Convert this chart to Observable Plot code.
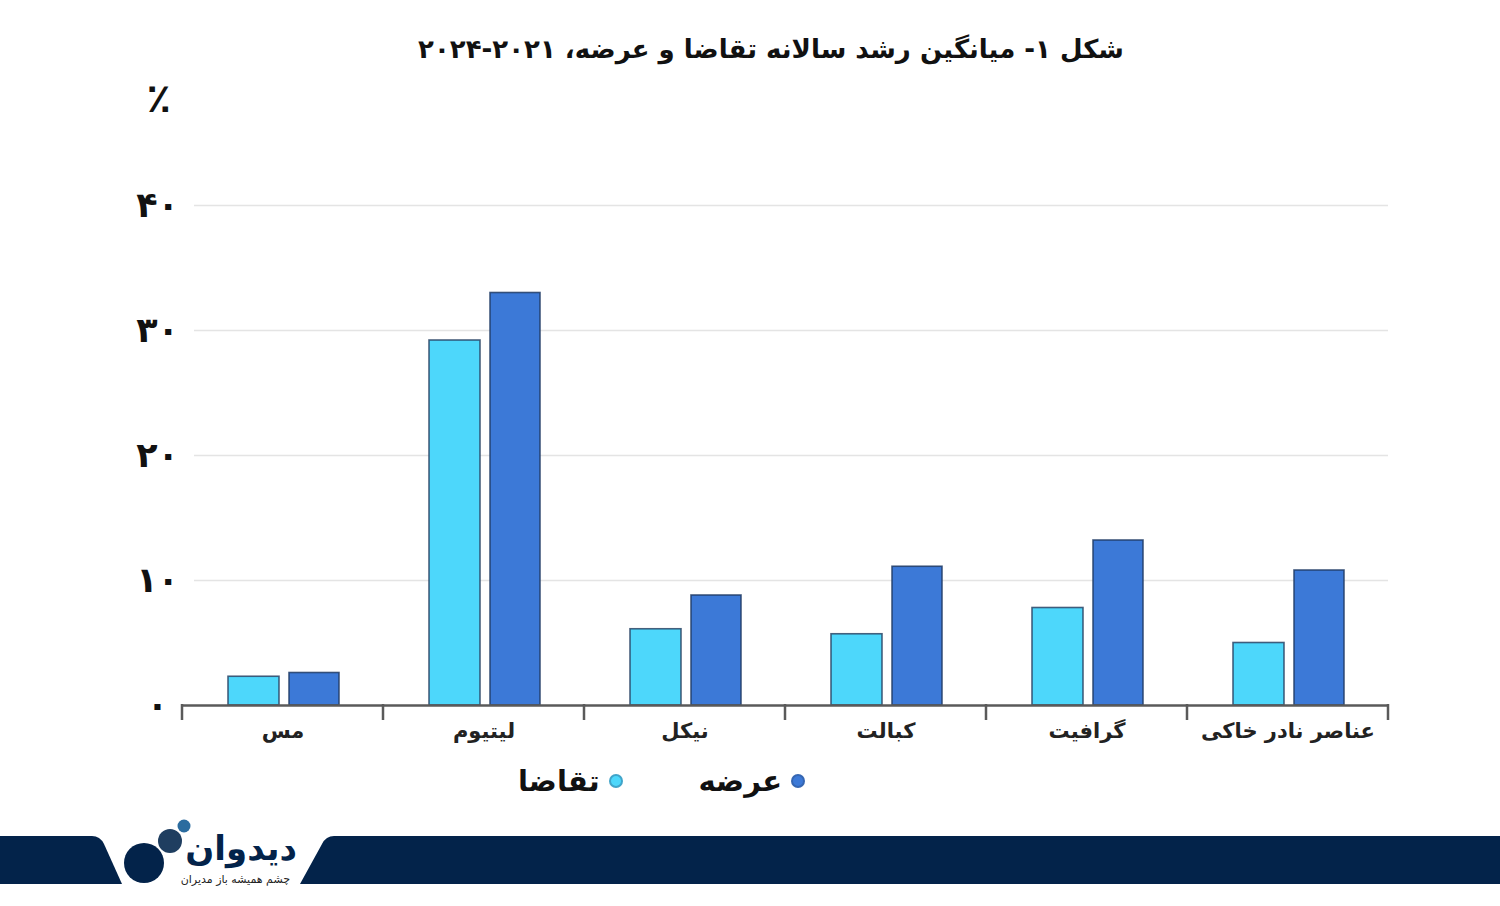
<!DOCTYPE html>
<html lang="fa">
<head>
<meta charset="utf-8">
<script src="https://cdn.jsdelivr.net/npm/d3@7"></script>
<script src="https://cdn.jsdelivr.net/npm/@observablehq/plot@0.6"></script>
<style>
html,body{margin:0;padding:0;background:#fff;width:1500px;height:906px;overflow:hidden;font-family:"DejaVu Sans",sans-serif;}
#title{position:absolute;top:34px;left:271px;width:1000px;text-align:center;font-size:26px;font-weight:bold;color:#111;direction:rtl;white-space:nowrap;}
#chart{position:absolute;top:80px;left:0;direction:ltr;}
#legend{position:absolute;top:764px;right:695px;display:flex;flex-direction:row;direction:rtl;gap:76px;font-size:29px;font-weight:bold;color:#111;}
#legend .item{display:flex;align-items:center;gap:9px;}
#legend .dot{width:14px;height:14px;border-radius:50%;box-sizing:border-box;border:2px solid rgba(40,70,110,0.35);}
#footer{position:absolute;top:810px;left:0;}
</style>
</head>
<body>
<div id="title">شکل ۱- میانگین رشد سالانه تقاضا و عرضه، ۲۰۲۱&#x200F;-&#x200F;۲۰۲۴</div>
<div id="chart"></div>
<div id="legend"></div>
<div id="footer"></div>
<script>
const categories = ["مس", "لیتیوم", "نیکل", "کبالت", "گرافیت", "عناصر نادر خاکی"];
const demand = [2.3, 29.2, 6.1, 5.7, 7.8, 5.0];
const supply = [2.6, 33.0, 8.8, 11.1, 13.2, 10.8];
const seriesNames = ["تقاضا", "عرضه"];
const seriesColors = ["#4dd7fb", "#3c79d7"];
const yTicks = [0, 10, 20, 30, 40];
const unitLabel = "٪";

const fa = v => String(v).replace(/\d/g, d => "۰۱۲۳۴۵۶۷۸۹"[d]);

const rows = categories.flatMap((c, i) => [
  {category: c, series: seriesNames[0], value: demand[i]},
  {category: c, series: seriesNames[1], value: supply[i]}
]);

const W = 1500, H = 680, ML = 182, MR = 112, MT = 125, MB = 55;
const step = (W - ML - MR) / categories.length;

function boundaryTicks(index, scales, values, dims) {
  const x = scales.x, y = scales.y;
  const bw = typeof x.bandwidth === "function" ? x.bandwidth() : (x.bandwidth ?? step);
  const y0 = y(0);
  const g = d3.create("svg:g").attr("stroke", "#5a5a5a").attr("stroke-width", 2.5);
  const xs = categories.map(c => x(c));
  xs.push(x(categories[categories.length - 1]) + bw);
  for (const px of xs) {
    g.append("line").attr("x1", px).attr("x2", px).attr("y1", y0 - 1).attr("y2", y0 + 15);
  }
  return g.node();
}

const chart = Plot.plot({
  width: W, height: H,
  marginLeft: ML, marginRight: MR, marginTop: MT, marginBottom: MB,
  style: {fontFamily: "DejaVu Sans, sans-serif", background: "transparent", overflow: "visible"},
  x: {type: "band", domain: categories, padding: 0},
  y: {domain: [0, 40]},
  color: {domain: seriesNames, range: seriesColors},
  marks: [
    Plot.ruleY(yTicks.filter(t => t > 0), {stroke: "#e4e4e4", strokeWidth: 1.5, insetLeft: 12}),
    Plot.barY(rows.filter(d => d.series === seriesNames[0]), {
      x: "category", y: "value", fill: "series",
      insetLeft: 46, insetRight: 104,
      stroke: "#2c4566", strokeWidth: 1.6, strokeOpacity: 0.85
    }),
    Plot.barY(rows.filter(d => d.series === seriesNames[1]), {
      x: "category", y: "value", fill: "series",
      insetLeft: 107, insetRight: 44,
      stroke: "#213c66", strokeWidth: 1.6, strokeOpacity: 0.85
    }),
    Plot.ruleY([0], {stroke: "#5a5a5a", strokeWidth: 2.5}),
    boundaryTicks,
    Plot.axisY(yTicks, {
      tickSize: 0, tickPadding: 25, tickFormat: fa, textAnchor: "middle",
      fontSize: 35, fontWeight: "bold", fill: "#111", label: null
    }),
    Plot.axisX({
      tickSize: 0, tickPadding: 18, fontSize: 21, fontWeight: "bold", fill: "#222", label: null
    }),
    Plot.text([unitLabel], {
      frameAnchor: "top-left", dx: -36, dy: -122, fontSize: 40, fontWeight: "bold", fill: "#111"
    })
  ]
});
document.getElementById("chart").appendChild(chart);

// legend (RTL: supply first on the right)
const legend = d3.select("#legend");
[1, 0].forEach(i => {
  const it = legend.append("div").attr("class", "item");
  it.append("span").attr("class", "dot").style("background", seriesColors[i]);
  it.append("span").text(seriesNames[i]);
});

// footer brand band
const f = d3.select("#footer").append("svg").attr("width", 1500).attr("height", 96);
const navy = "#03234a";
f.append("path").attr("fill", navy)
  .attr("d", "M0,26 L92,26 Q100,26 104,34 L122,74 L0,74 Z");
f.append("path").attr("fill", navy)
  .attr("d", "M334,26 L1500,26 L1500,74 L300,74 L322,34 Q326,26 334,26 Z");
f.append("circle").attr("cx", 144).attr("cy", 53).attr("r", 20).attr("fill", navy);
f.append("circle").attr("cx", 170).attr("cy", 31).attr("r", 12).attr("fill", "#1f3e60");
f.append("circle").attr("cx", 184).attr("cy", 16).attr("r", 6.5).attr("fill", "#2b6c9f");
f.append("text").attr("x", 297).attr("y", 50).attr("text-anchor", "start").attr("direction", "rtl")
  .attr("font-size", 34).attr("font-weight", "bold").attr("fill", navy).text("دیدوان");
f.append("text").attr("x", 290).attr("y", 73).attr("text-anchor", "start").attr("direction", "rtl")
  .attr("font-size", 11).attr("fill", "#222").text("چشم همیشه باز مدیران");
</script>
</body>
</html>
